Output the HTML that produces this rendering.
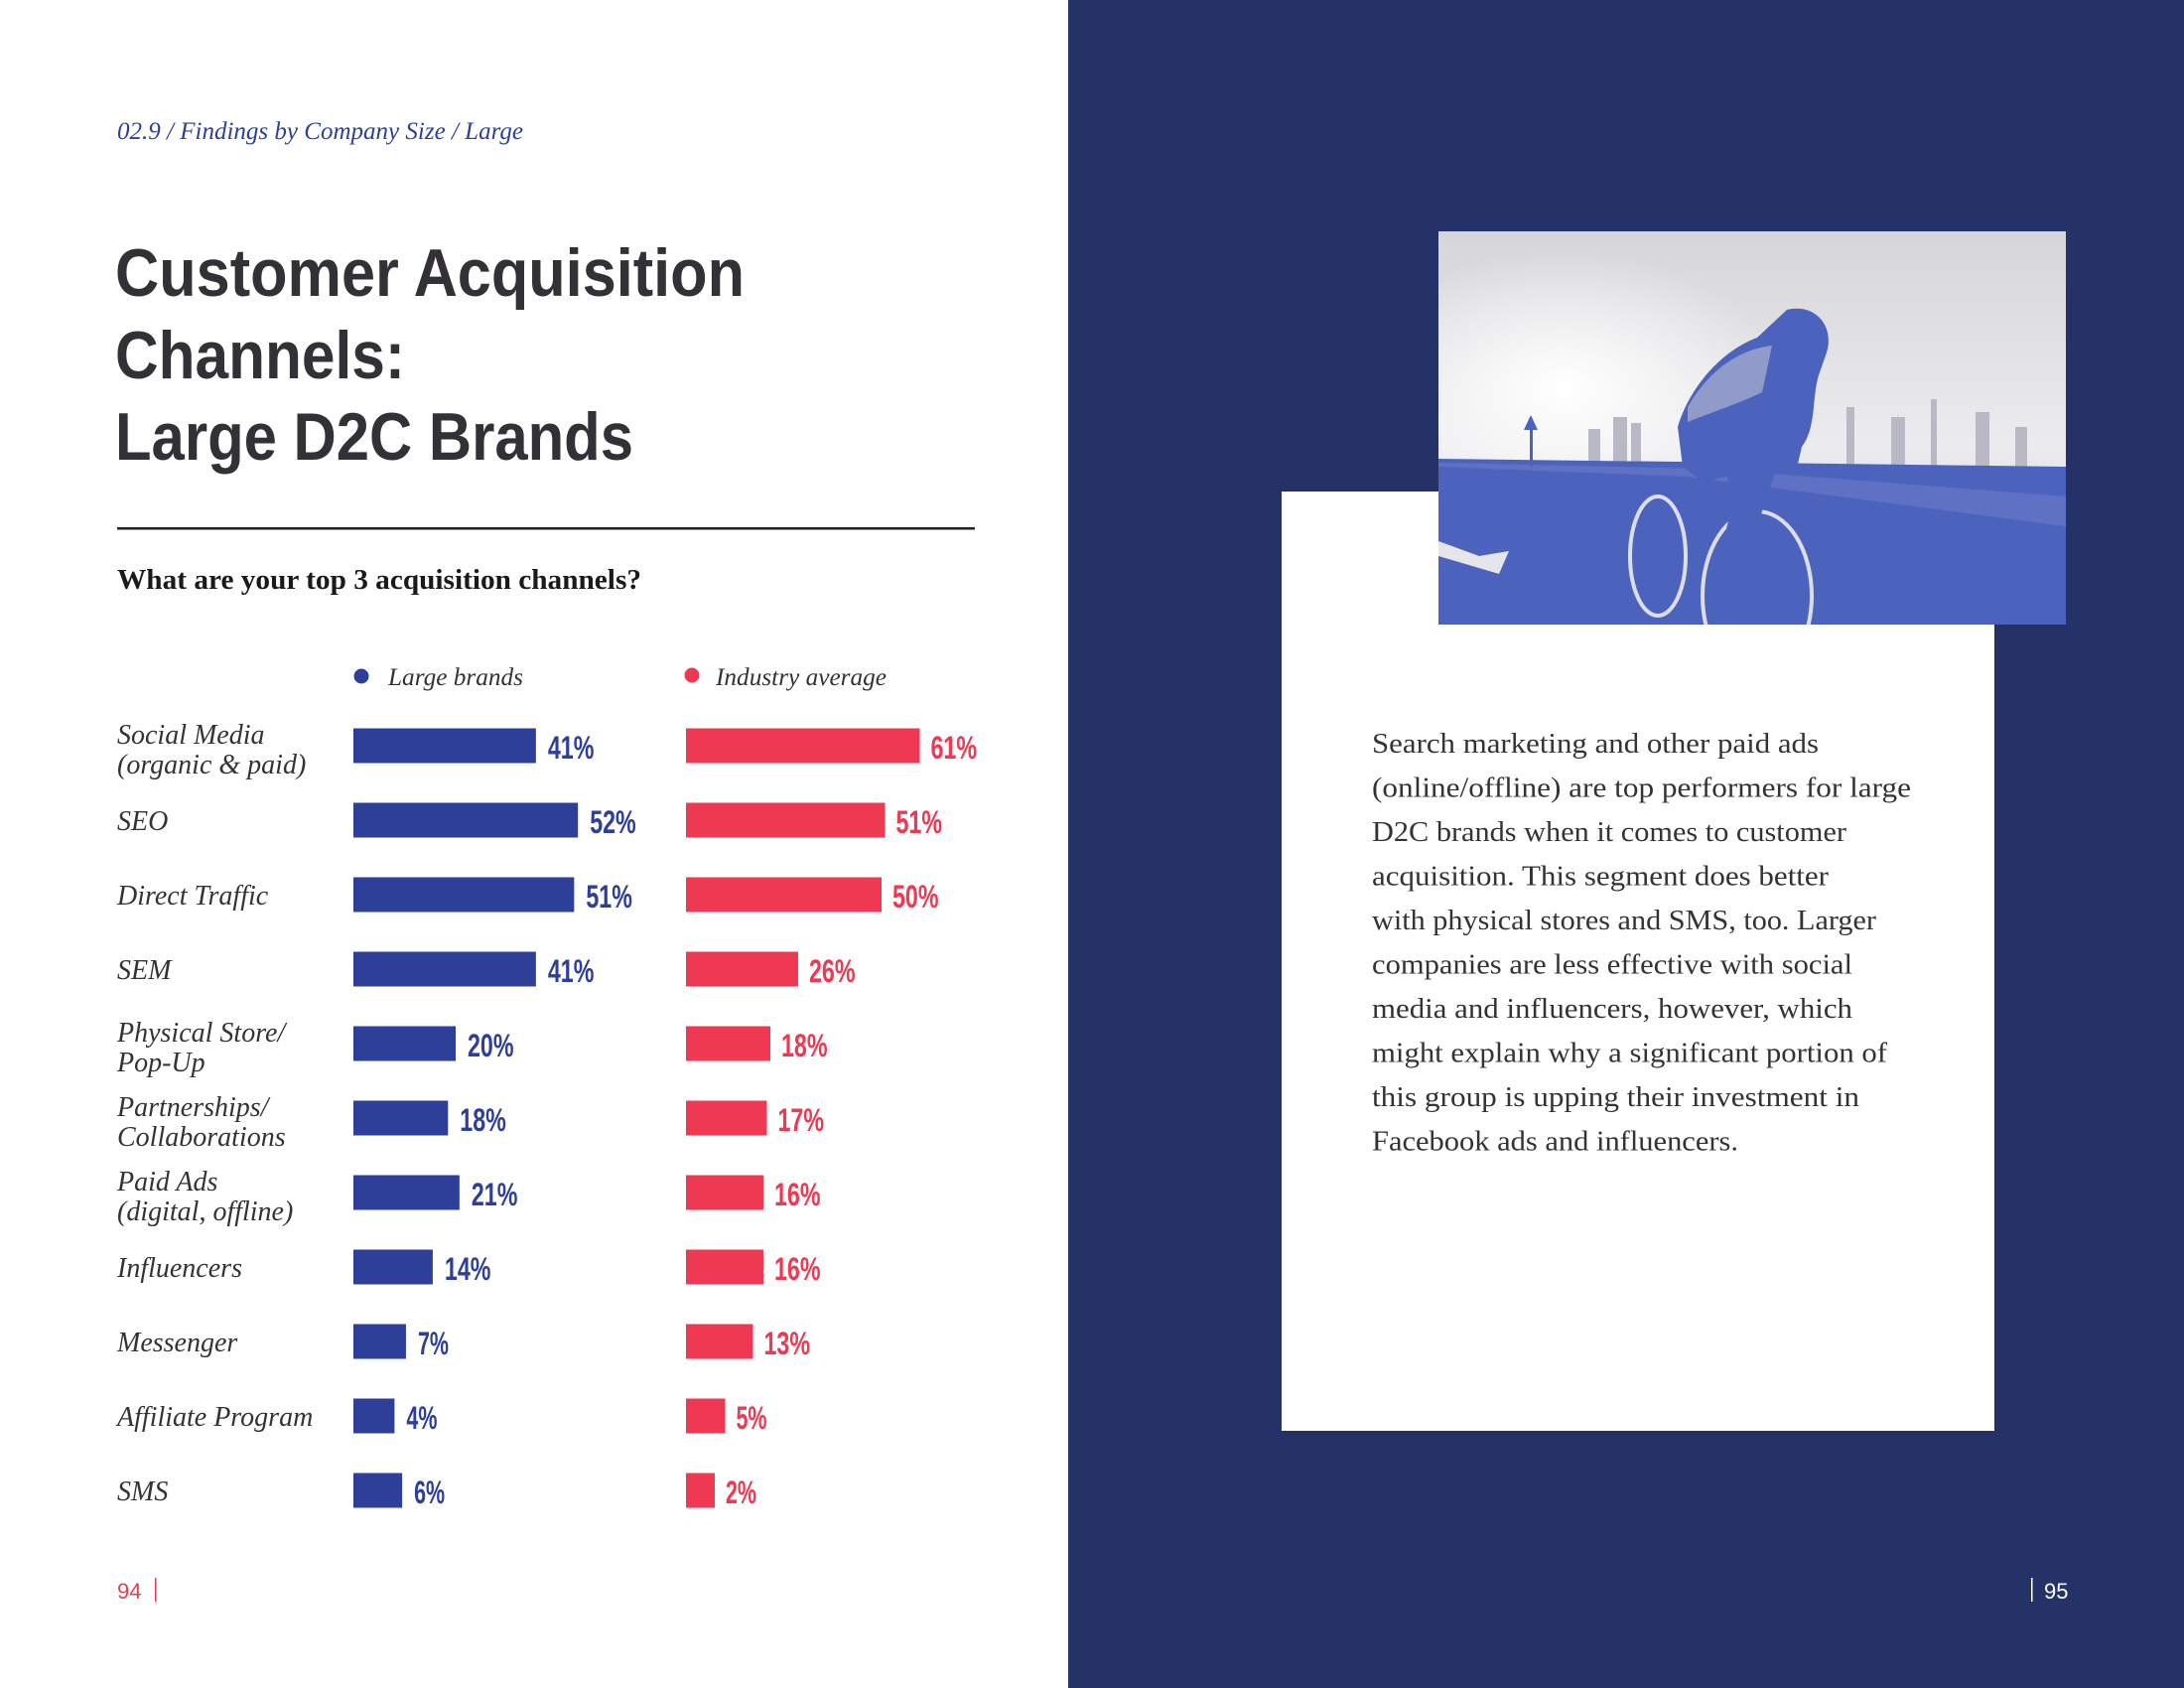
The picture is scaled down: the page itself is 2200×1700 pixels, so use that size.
<!DOCTYPE html>
<html><head><meta charset="utf-8"><style>
html,body{margin:0;padding:0;}
body{width:2200px;height:1700px;overflow:hidden;background:#fff;}
svg{display:block;}
</style></head><body>
<svg id="page" width="2200" height="1700" viewBox="0 0 2200 1700" xmlns="http://www.w3.org/2000/svg">
  <defs>
    <linearGradient id="sky" x1="0" y1="0" x2="0" y2="1">
      <stop offset="0" stop-color="#d6d6da"/>
      <stop offset="0.55" stop-color="#ececef"/>
      <stop offset="1" stop-color="#c9c9d2"/>
    </linearGradient>
    <radialGradient id="sun" cx="0.2" cy="0.4" r="0.35">
      <stop offset="0" stop-color="#ffffff"/>
      <stop offset="1" stop-color="#ffffff" stop-opacity="0"/>
    </radialGradient>
    <clipPath id="photoClip"><rect x="1449" y="233" width="632" height="396"/></clipPath>
  </defs>
  <rect x="0" y="0" width="1076" height="1700" fill="#ffffff"/>
  <rect x="1076" y="0" width="1124" height="1700" fill="#253268"/>
  <rect x="1291" y="495" width="718" height="946" fill="#ffffff"/>
  <g clip-path="url(#photoClip)">
    <rect x="1449" y="233" width="632" height="396" fill="url(#sky)"/>
    <rect x="1449" y="233" width="632" height="396" fill="url(#sun)"/>
    <g fill="#b9b9c6">
      <rect x="1600" y="432" width="12" height="40"/><rect x="1625" y="420" width="14" height="52"/>
      <rect x="1643" y="426" width="10" height="46"/><rect x="1860" y="410" width="8" height="62"/>
      <rect x="1905" y="420" width="14" height="52"/><rect x="1945" y="402" width="6" height="70"/>
      <rect x="1990" y="415" width="14" height="57"/><rect x="2030" y="430" width="12" height="42"/>
    </g>
    <polygon points="1449,462 2081,470 2081,629 1449,629" fill="#4c63bd"/>
    <polygon points="1449,470 1700,480 2081,530 2081,500 1720,472 1449,466" fill="#6b7cc6" opacity="0.6"/>
    <polygon points="1449,545 1490,560 1520,555 1510,578 1449,560" fill="#e6e6ea"/>
    <rect x="1541" y="430" width="3" height="40" fill="#4c63bd"/>
    <polygon points="1535,433 1542,418 1549,433" fill="#4c63bd"/>
    <g fill="none" stroke="#dcdde6" stroke-width="4">
      <ellipse cx="1670" cy="560" rx="28" ry="60"/>
      <ellipse cx="1770" cy="600" rx="55" ry="85"/>
    </g>
    <path d="M1800,312 C1830,305 1848,330 1840,355 L1832,378 C1825,400 1830,430 1815,450 L1808,480 1790,470 1780,500 1760,560 1740,590 1725,585 1745,510 1740,480 1715,485 1695,470 1690,430 C1700,395 1730,355 1770,340 Z" fill="#4c63bd"/>
    <path d="M1700,410 C1720,375 1750,352 1785,348 L1775,395 C1755,405 1725,415 1700,425 Z" fill="#c8cad6" opacity="0.55"/>
  </g>

  <text x="118" y="140" font-family="Liberation Serif, serif" font-style="italic" font-size="25" fill="#2d3f99" textLength="409" lengthAdjust="spacingAndGlyphs">02.9 / Findings by Company Size / Large</text>
  <g font-family="Liberation Sans, sans-serif" font-weight="bold" font-size="68" fill="#333135">
    <text x="116" y="298" textLength="634" lengthAdjust="spacingAndGlyphs">Customer Acquisition</text>
    <text x="116" y="381" textLength="292" lengthAdjust="spacingAndGlyphs">Channels:</text>
    <text x="116" y="463" textLength="522" lengthAdjust="spacingAndGlyphs">Large D2C Brands</text>
  </g>
  <rect x="118" y="531" width="864" height="2.5" fill="#222"/>
  <text x="118" y="593" font-family="Liberation Serif, serif" font-weight="bold" font-size="28" fill="#1a1a1a" textLength="528" lengthAdjust="spacingAndGlyphs">What are your top 3 acquisition  channels?</text>

  <g font-family="Liberation Serif, serif" font-style="italic" font-size="25" fill="#333">
    <circle cx="364" cy="681" r="7.5" fill="#2d3f99"/>
    <text x="391" y="690" textLength="136" lengthAdjust="spacingAndGlyphs">Large brands</text>
    <circle cx="697" cy="680" r="7.5" fill="#ef3852"/>
    <text x="721" y="690" textLength="172" lengthAdjust="spacingAndGlyphs">Industry average</text>
  </g>
  <g id="chart"></g>

  <g font-family="Liberation Serif, serif" font-size="29" fill="#333" id="para"></g>

  <text x="118" y="1610" font-family="Liberation Sans, sans-serif" font-size="22" fill="#ef3852">94</text>
  <rect x="156" y="1589" width="1.5" height="24" fill="#ef3852"/>
  <rect x="2046" y="1589" width="1.5" height="24" fill="#ffffff"/>
  <text x="2059" y="1610" font-family="Liberation Sans, sans-serif" font-size="22" fill="#ffffff">95</text>
</svg>
<script>
const categories = [["Social Media","(organic & paid)"],["SEO"],["Direct Traffic"],["SEM"],["Physical Store/","Pop-Up"],["Partnerships/","Collaborations"],["Paid Ads","(digital, offline)"],["Influencers"],["Messenger"],["Affiliate Program"],["SMS"]];
const largeBrands = [41,52,51,41,20,18,21,14,7,4,6];
const industryAvg = [61,51,50,26,18,17,16,16,13,5,2];

const NS = "http://www.w3.org/2000/svg";
const chart = document.getElementById('chart');
const rowY = i => 751 + i * 75;
const blueW = v => 26 + 3.85 * v;
const redW = v => 22 + 3.5 * v;
const BH = 35;
function mk(tag, attrs){ const e=document.createElementNS(NS,tag); for(const k in attrs) e.setAttribute(k,attrs[k]); return e; }

categories.forEach((lines, i) => {
  const cy = rowY(i);
  if (lines.length === 1) {
    const t = mk('text',{x:118,y:cy+10,'font-family':'Liberation Serif, serif','font-style':'italic','font-size':28,fill:'#333'});
    
    
    t.textContent = lines[0]; chart.appendChild(t);
  } else {
    lines.forEach((ln, j) => {
      const t = mk('text',{x:118,y:cy-2+j*30,'font-family':'Liberation Serif, serif','font-style':'italic','font-size':28,fill:'#333'});
      
      
      t.textContent = ln; chart.appendChild(t);
    });
  }
  const wb = blueW(largeBrands[i]);
  const b = mk('rect',{x:356,y:cy-BH/2,width:wb,height:BH,fill:'#2d3f99'});
  
  
  chart.appendChild(b);
  const lb = String(largeBrands[i]) + '%';
  const tb = mk('text',{x:356+wb+12,y:cy+13,'font-family':'Liberation Sans, sans-serif','font-weight':'bold','font-size':32,fill:'#2d3f99',textLength:lb.length*15.5,lengthAdjust:'spacingAndGlyphs'});
  
  
  tb.textContent = lb; chart.appendChild(tb);

  const wr = redW(industryAvg[i]);
  const r = mk('rect',{x:691,y:cy-BH/2,width:wr,height:BH,fill:'#ef3852'});
  
  
  chart.appendChild(r);
  const lr = String(industryAvg[i]) + '%';
  const tr = mk('text',{x:691+wr+11,y:cy+13,'font-family':'Liberation Sans, sans-serif','font-weight':'bold','font-size':32,fill:'#ef3852',textLength:lr.length*15.5,lengthAdjust:'spacingAndGlyphs'});
  
  
  tr.textContent = lr; chart.appendChild(tr);
});

const paraLines = ["Search marketing and other paid ads","(online/offline) are top performers for large","D2C brands when it comes to customer","acquisition. This segment does better","with physical stores and SMS, too. Larger","companies are less effective with social","media and influencers, however, which","might explain why a significant portion of","this group is upping their investment in","Facebook ads and influencers."];
const paraW = [450,543,478,460,508,484,484,519,491,369];
const para = document.getElementById('para');
paraLines.forEach((ln,i)=>{
  const t = mk('text',{x:1382,y:758+i*44.5,textLength:paraW[i],lengthAdjust:'spacingAndGlyphs'});
  
  
  t.textContent = ln; para.appendChild(t);
});
</script>
</body></html>
